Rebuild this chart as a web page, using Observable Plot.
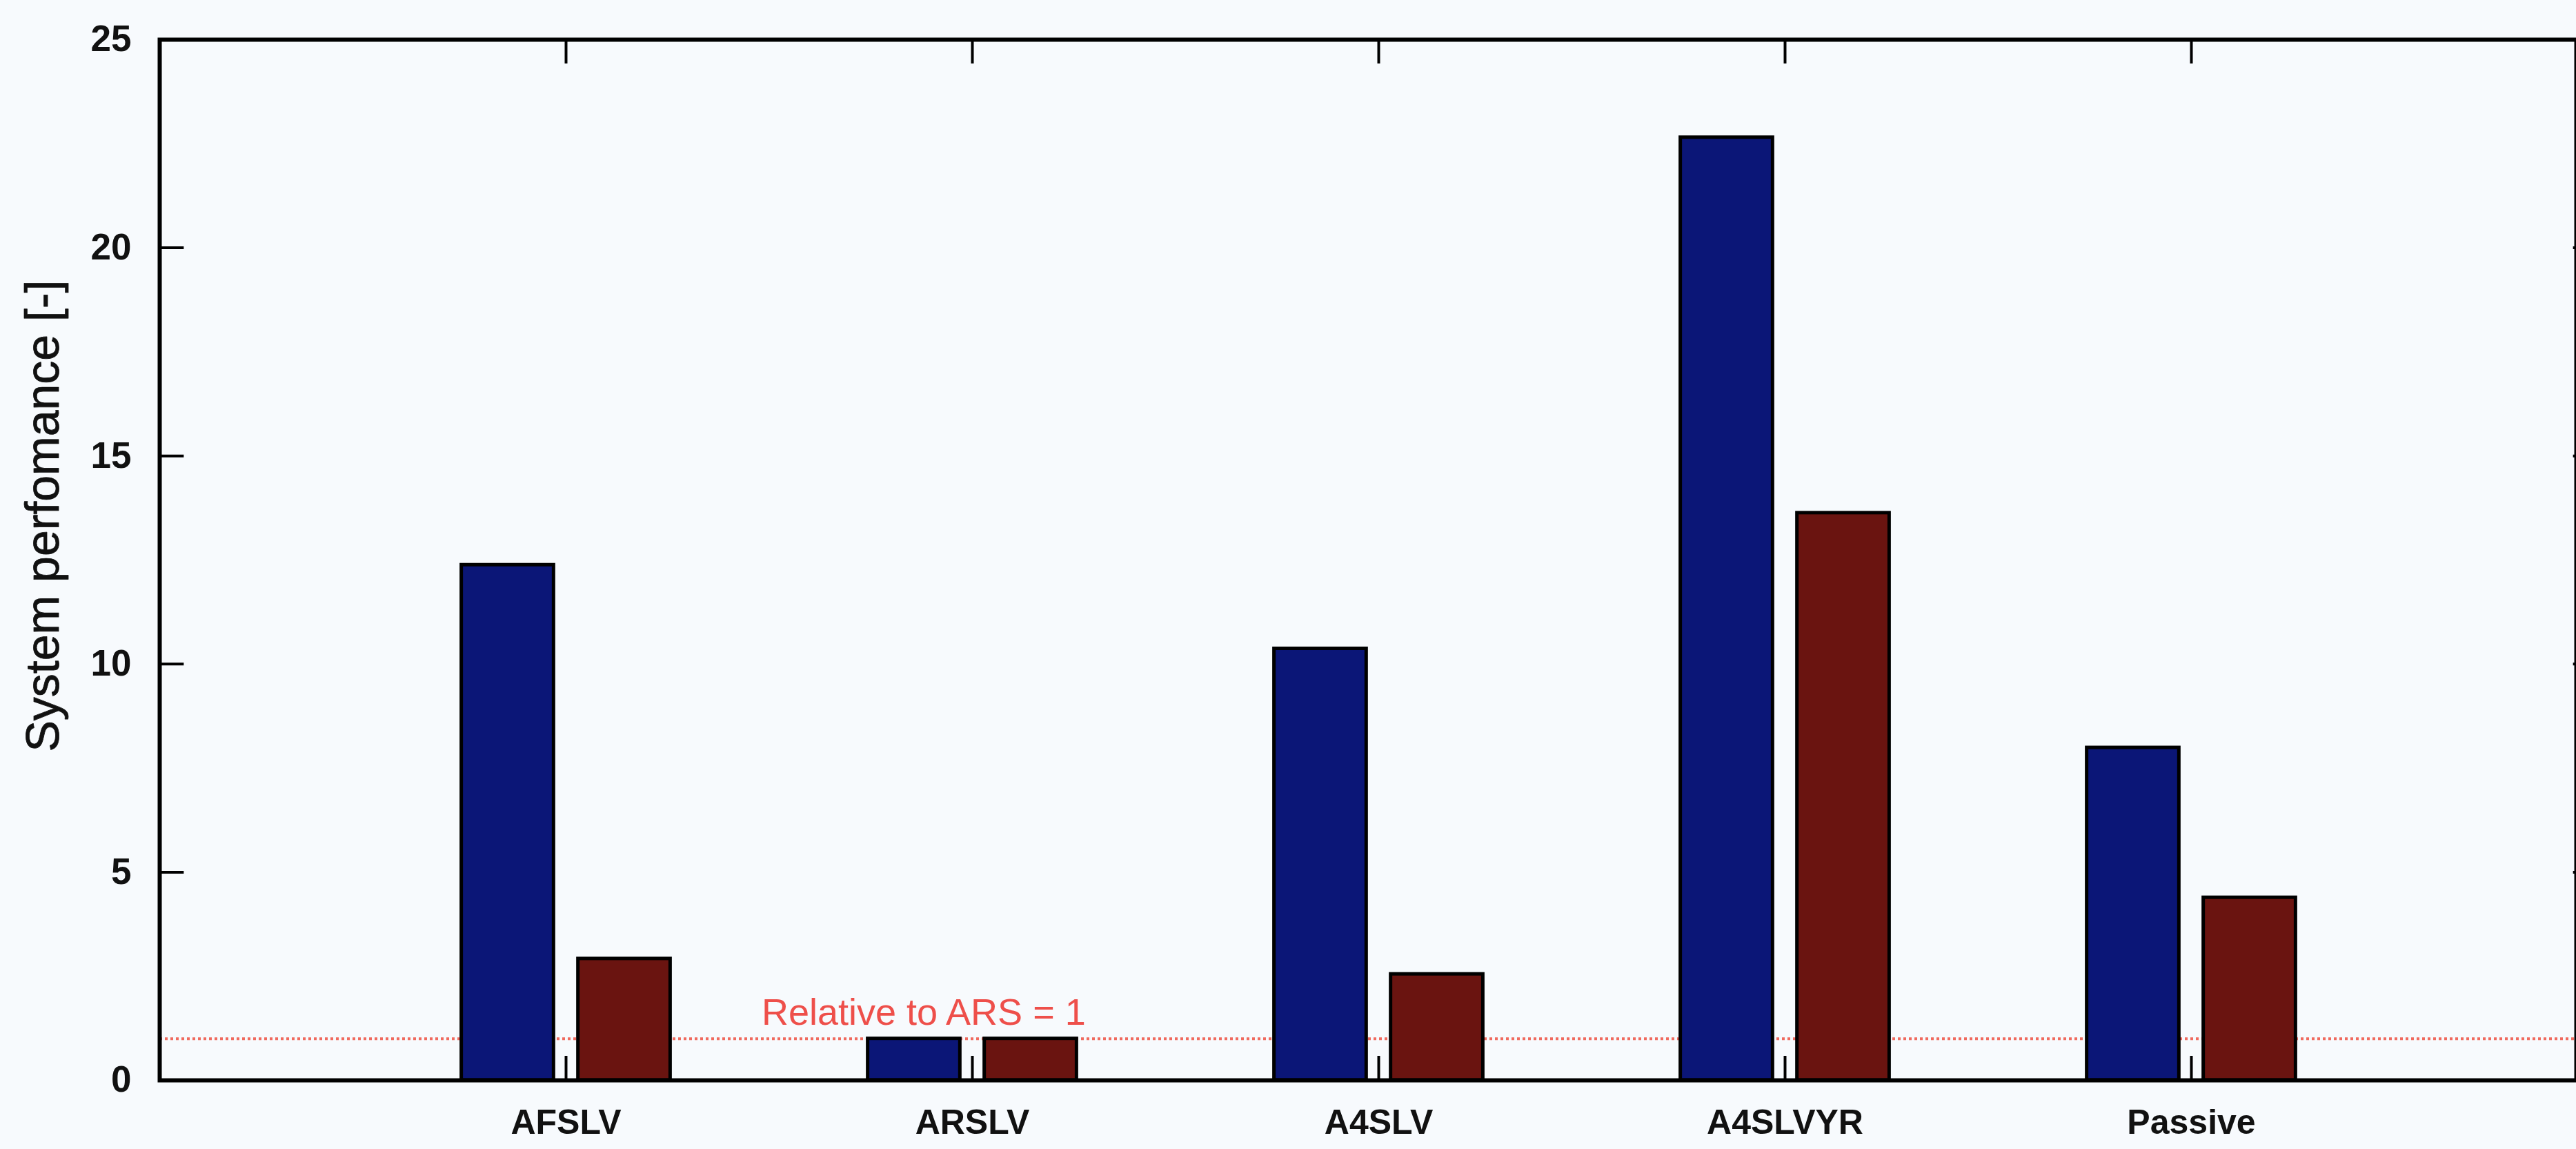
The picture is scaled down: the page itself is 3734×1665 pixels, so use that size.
<!DOCTYPE html>
<html>
<head>
<meta charset="utf-8">
<script src="https://cdn.jsdelivr.net/npm/d3@7"></script>
<script src="https://cdn.jsdelivr.net/npm/@observablehq/plot@0.6"></script>
<style>
  html, body { margin: 0; padding: 0; background: #f7fafd; overflow: hidden; }
  #chart svg { display: block; max-width: none; background: #f7fafd; }
</style>
</head>
<body>
<div id="chart"></div>
<script>
// ---- data ----
const categories = ["AFSLV", "ARSLV", "A4SLV", "A4SLVYR", "Passive"];
const seriesA = [12.38, 1.0, 10.37, 22.65, 7.99];   // blue bars
const seriesB = [2.92, 1.0, 2.55, 13.63, 4.39];     // dark red bars
const yTicks = [0, 5, 10, 15, 20, 25];
const refValue = 1;
const refLabel = "Relative to ARS = 1";
const yLabel = "System perfomance [-]";
const colorA = "#0b1677";
const colorB = "#6a1410";

// ---- table ----
const positions = categories.map((c, i) => i + 1);
const rows = [];
categories.forEach((c, i) => {
  rows.push({cat: c, pos: i + 1, series: "A", value: seriesA[i]});
  rows.push({cat: c, pos: i + 1, series: "B", value: seriesB[i]});
});

const W = 3734, H = 1665;
const xTick = 0.06;  // inward tick length (x units)
const yTick = 0.58;  // inward tick length (y units)

const plot = Plot.plot({
  width: W,
  height: H,
  marginLeft: 231,
  marginTop: 57,
  marginBottom: 100,
  marginRight: 0,
  style: {background: "#f7fafd", fontFamily: "'Liberation Sans', Arial, sans-serif"},
  x: {domain: [0, 6], range: [231, 231 + 6 * 589], axis: null},
  y: {domain: [0, 25], range: [1565, 57], axis: null},
  marks: [
    // reference line
    Plot.ruleY([refValue], {x1: 0, x2: 6, stroke: "#f06a5e", strokeWidth: 4, strokeDasharray: "4,4"}),
    Plot.text([refLabel], {x: 1.88, y: refValue, text: d => d, fill: "#ee4f4a", fontSize: 54,
      textAnchor: "middle", lineAnchor: "bottom", dy: -20}),
    // inward ticks
    Plot.ruleY(yTicks, {y: d => d, x1: 0, x2: xTick, stroke: "black", strokeWidth: 4}),
    Plot.ruleY(yTicks, {y: d => d, x1: 6 - xTick, x2: 6, stroke: "black", strokeWidth: 4}),
    Plot.ruleX(positions, {x: d => d, y1: 25, y2: 25 - yTick, stroke: "black", strokeWidth: 4}),
    Plot.ruleX(positions, {x: d => d, y1: 0, y2: yTick, stroke: "black", strokeWidth: 4}),
    // bars
    Plot.rectY(rows, {
      x1: d => d.pos + (d.series === "A" ? -0.257 : 0.03),
      x2: d => d.pos + (d.series === "A" ? -0.03 : 0.257),
      y1: 0,
      y2: "value",
      fill: d => d.series === "A" ? colorA : colorB,
      stroke: "black",
      strokeWidth: 5
    }),
    // frame
    Plot.frame({stroke: "black", strokeWidth: 6}),
    // tick labels
    Plot.text(yTicks, {x: 0, y: d => d, text: d => String(d), textAnchor: "end", dx: -41,
      fontSize: 53, fontWeight: "bold", fill: "#111"}),
    Plot.text(positions, {x: d => d, y: 0, text: d => categories[d - 1], textAnchor: "middle",
      lineAnchor: "top", dy: 42, fontSize: 50, fontWeight: "bold", fill: "#111"}),
    // y axis label
    Plot.text([yLabel], {frameAnchor: "left", text: d => d, rotate: -90, dx: -168, dy: -64,
      textAnchor: "middle", lineAnchor: "middle",
      fontSize: 68, fill: "#111", stroke: "#111", strokeWidth: 0.8})
  ]
});
document.getElementById("chart").appendChild(plot);
</script>
</body>
</html>
